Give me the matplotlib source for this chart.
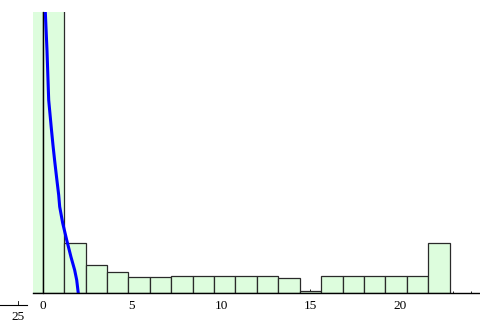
import numpy as np
import matplotlib
matplotlib.use("Agg")
import matplotlib.pyplot as plt
from matplotlib.lines import Line2D

# histogram bins (left edges, width 1.2) and heights (arbitrary units)
bin_left = [-1.2, 0.0, 1.2, 2.4, 3.6, 4.8, 6.0, 7.2, 8.4, 9.6, 10.8,
            12.0, 13.2, 14.4, 15.6, 16.8, 18.0, 19.2, 20.4, 21.6]
bin_width = 1.2
counts = [400, 400, 50, 28.7, 21.7, 16.7, 16.7, 17, 17, 17, 17,
          17, 15.3, 2, 17, 17, 17, 17, 17, 50.6]

# blue density curve
curve_x = [0.146, 0.24, 0.336, 0.482, 0.577, 0.672, 0.784, 0.896,
           0.952, 1.12, 1.345, 1.585, 1.79, 1.905, 1.994]
curve_y = [281.3, 243.3, 193.3, 165.3, 148.0, 132.3, 115.0, 98.3,
           86.6, 70.3, 53.3, 36.3, 23.3, 13.3, 0.0]

xticks_major = [0, 5, 10, 15, 20]

W, H = 481, 323
fig = plt.figure(figsize=(W / 100, H / 100), dpi=100)
ax = fig.add_axes([33 / W, (H - 293.3) / H, (W - 33) / W, 281.3 / H])

ax.bar(bin_left, counts, width=bin_width, align="edge",
       color="#ddfddd", edgecolor="#2a2a2a", linewidth=0.9, zorder=2)
ax.plot(curve_x, curve_y, color="#0000ff", linewidth=2.2, zorder=3,
        solid_capstyle="butt", solid_joinstyle="round")

ax.set_xlim(-0.543, 24.555)
ax.set_ylim(0, 281.3)

for s in ["top", "right"]:
    ax.spines[s].set_visible(False)
ax.spines["left"].set_position(("data", 0))
ax.spines["left"].set_linewidth(0.9)
ax.spines["bottom"].set_linewidth(1.0)
ax.spines["bottom"].set_zorder(4)

ax.set_yticks([])
ax.set_xticks(xticks_major)
ax.set_xticks(np.arange(0, 25, 1), minor=True)
ax.tick_params(axis="x", which="major", direction="in", length=3.2,
               width=0.6, pad=5, labelsize=9.5)
ax.tick_params(axis="x", which="minor", direction="in", length=1.8, width=0.6)
for lab in ax.get_xticklabels():
    lab.set_family("Liberation Serif")

# stray axis fragment at bottom-left
fig.add_artist(Line2D([0 / W, 27 / W], [1 - 305 / H, 1 - 305 / H],
                      color="black", linewidth=0.8, transform=fig.transFigure))
fig.add_artist(Line2D([18.3 / W, 18.3 / W], [1 - 305 / H, 1 - 301 / H],
                      color="black", linewidth=0.6, transform=fig.transFigure))
fig.text(18.3 / W, 1 - 311 / H, "25", ha="center", va="top",
         fontsize=9.5, family="Liberation Serif")

fig.savefig("out.png", dpi=100)
